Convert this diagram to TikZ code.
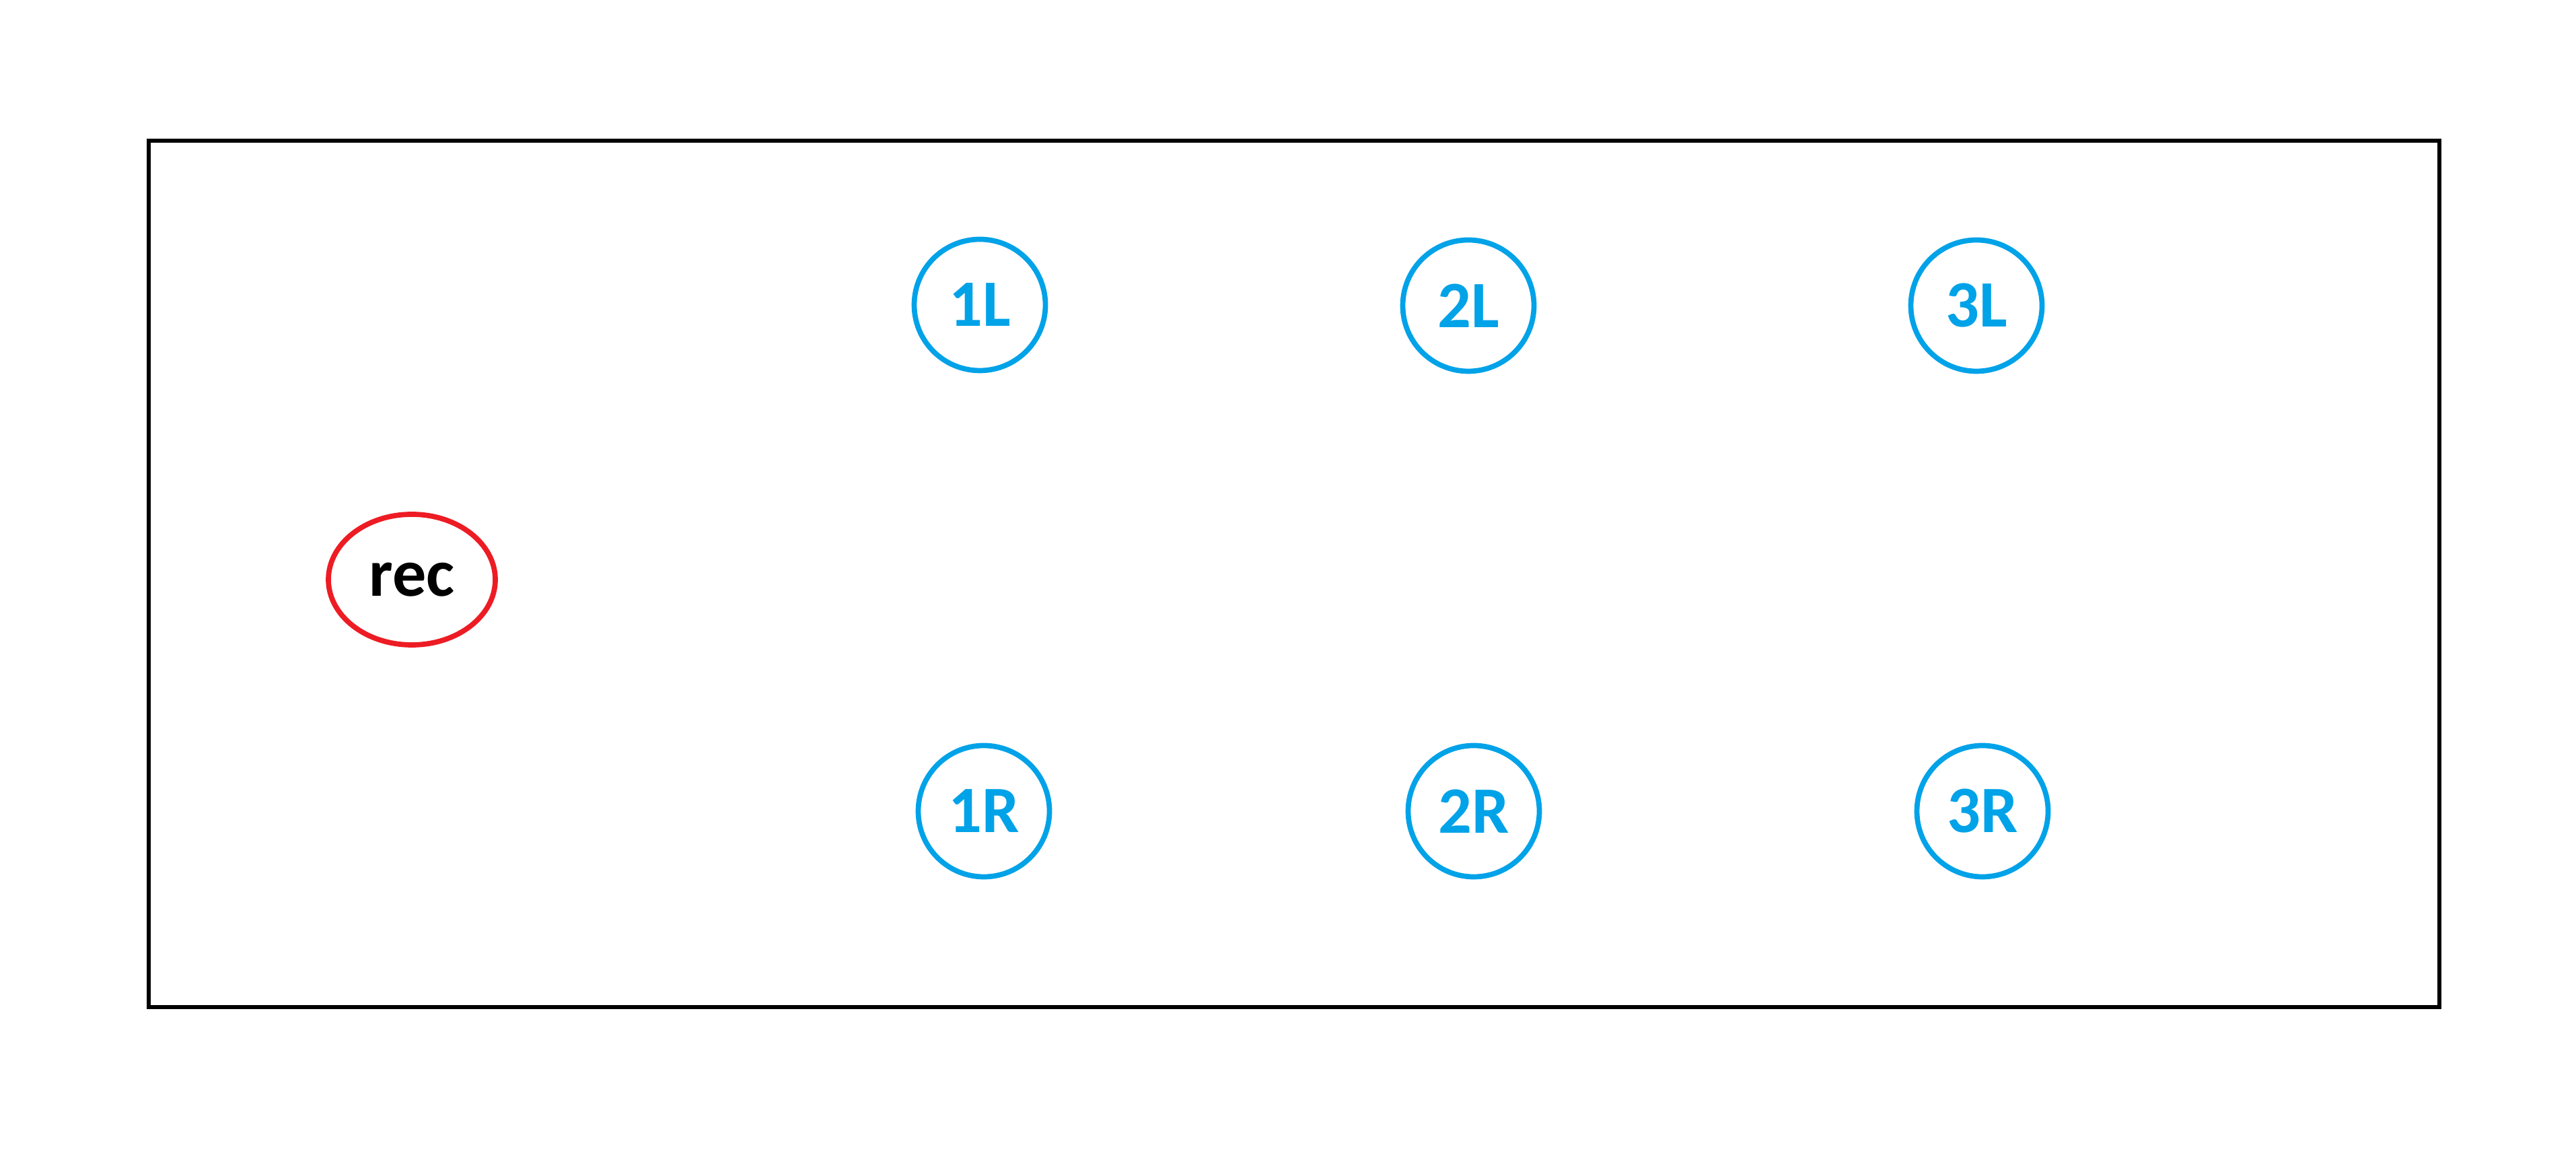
\documentclass[tikz,border=0pt]{standalone}
\usepackage{fontspec}
\setmainfont{Carlito}
\usepackage{xcolor}
\usepackage{tikz}
\usetikzlibrary{shapes.geometric, positioning}

\definecolor{mikeblue}{RGB}{0,162,232}
\definecolor{recred}{RGB}{237,28,36}

\begin{document}
\begin{tikzpicture}[
    mike/.style={circle, draw=mikeblue, line width=2.2pt, minimum size=1.95cm, inner sep=0pt, text=mikeblue, font=\fontsize{28}{28}\selectfont\bfseries},
    recv/.style={ellipse, draw=recred, line width=2.2pt, minimum width=2.48cm, minimum height=1.94cm, inner sep=0pt, font=\fontsize{28.5}{28.5}\selectfont\bfseries}
]
\useasboundingbox (0,0) rectangle (38.28,17.38);
\draw[line width=1.5pt] (2.21,2.42) rectangle (36.25,15.29);

\node[recv] (rec) at (6.12,8.77) {rec};

\node[mike] (m1L) at (14.56,12.85) {1L};
\node[mike] (m2L) at (21.82,12.84) {2L};
\node[mike] (m3L) at (29.37,12.84) {3L};
\node[mike] (m1R) at (14.62,5.33) {1R};
\node[mike] (m2R) at (21.90,5.33) {2R};
\node[mike] (m3R) at (29.46,5.33) {3R};
\end{tikzpicture}
\end{document}
